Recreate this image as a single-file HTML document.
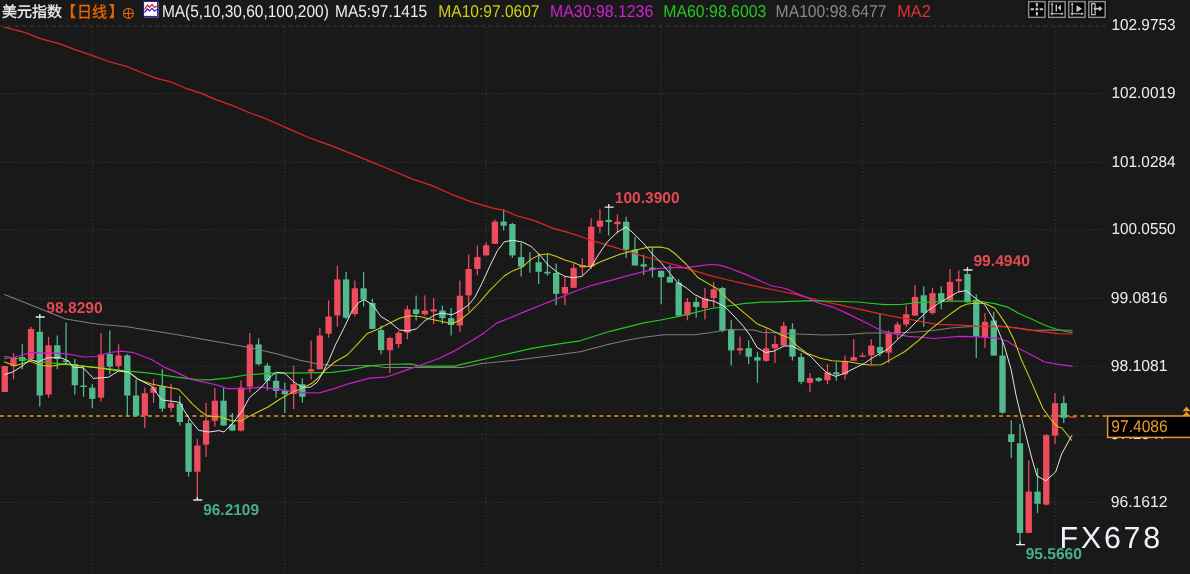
<!DOCTYPE html>
<html lang="zh-CN">
<head>
<meta charset="utf-8">
<title>美元指数 日线</title>
<style>
html,body{margin:0;padding:0;background:#191919;overflow:hidden}
body{width:1190px;height:574px;position:relative;font-family:"Liberation Sans", "Noto Sans CJK SC", sans-serif}
</style>
</head>
<body>
<svg width="1190" height="574" viewBox="0 0 1190 574" style="display:block;position:absolute;left:0;top:0">
<rect width="1190" height="574" fill="#191919"/>
<g stroke="#3c3c3c" stroke-width="1" fill="none">
<path d="M0 26H1105.5" stroke="#3f3f3f" stroke-dasharray="4 3.4"/>
<path d="M0 93.6H1105.5" stroke-dasharray="1.2 2.5"/>
<path d="M0 162.2H1105.5" stroke-dasharray="1.2 2.5"/>
<path d="M0 230.0H1105.5" stroke-dasharray="1.2 2.5"/>
<path d="M0 298.5H1105.5" stroke-dasharray="1.2 2.5"/>
<path d="M0 366.3H1105.5" stroke-dasharray="1.2 2.5"/>
<path d="M0 434.7H1105.5" stroke-dasharray="1.2 2.5"/>
<path d="M0 502.4H1105.5" stroke-dasharray="1.2 2.5"/>
<path d="M92.3 27V574" stroke-dasharray="1.2 2.5"/>
<path d="M284.8 27V574" stroke-dasharray="1.2 2.5"/>
<path d="M486.1 27V574" stroke-dasharray="1.2 2.5"/>
<path d="M661.2 27V574" stroke-dasharray="1.2 2.5"/>
<path d="M862.5 27V574" stroke-dasharray="1.2 2.5"/>
<path d="M1055.0 27V574" stroke-dasharray="1.2 2.5"/>
</g>
<path d="M0 416H1108" stroke="#e8962e" stroke-width="1.35" stroke-dasharray="4 3.4" fill="none"/>
<g>
<path d="M4.78 366.0V392.0" stroke="#ec4c5d" stroke-width="1.25"/>
<rect x="1.63" y="366.0" width="6.3" height="26.0" fill="#ec4c5d"/>
<path d="M13.53 353.0V379.4" stroke="#ec4c5d" stroke-width="1.25"/>
<rect x="10.38" y="357.4" width="6.3" height="8.6" fill="#ec4c5d"/>
<path d="M22.28 344.3V369.3" stroke="#52b98c" stroke-width="1.25"/>
<rect x="19.13" y="357.0" width="6.3" height="4.0" fill="#52b98c"/>
<path d="M31.04 326.7V359.0" stroke="#ec4c5d" stroke-width="1.25"/>
<rect x="27.89" y="329.0" width="6.3" height="30.0" fill="#ec4c5d"/>
<path d="M39.79 315.4V406.7" stroke="#52b98c" stroke-width="1.25"/>
<rect x="36.64" y="331.8" width="6.3" height="63.7" fill="#52b98c"/>
<path d="M48.54 336.8V397.7" stroke="#ec4c5d" stroke-width="1.25"/>
<rect x="45.39" y="345.3" width="6.3" height="49.2" fill="#ec4c5d"/>
<path d="M57.29 335.5V369.3" stroke="#52b98c" stroke-width="1.25"/>
<rect x="54.14" y="345.3" width="6.3" height="13.7" fill="#52b98c"/>
<path d="M66.04 322.8V364.0" stroke="#52b98c" stroke-width="1.25"/>
<rect x="62.89" y="360.5" width="6.3" height="1.5" fill="#52b98c"/>
<path d="M74.80 359.0V394.4" stroke="#52b98c" stroke-width="1.25"/>
<rect x="71.65" y="364.0" width="6.3" height="21.2" fill="#52b98c"/>
<path d="M83.55 365.0V396.9" stroke="#52b98c" stroke-width="1.25"/>
<rect x="80.40" y="385.6" width="6.3" height="1.4" fill="#52b98c"/>
<path d="M92.30 384.1V407.9" stroke="#52b98c" stroke-width="1.25"/>
<rect x="89.15" y="387.7" width="6.3" height="11.2" fill="#52b98c"/>
<path d="M101.05 333.1V401.6" stroke="#ec4c5d" stroke-width="1.25"/>
<rect x="97.90" y="354.4" width="6.3" height="43.3" fill="#ec4c5d"/>
<path d="M109.80 330.4V374.3" stroke="#52b98c" stroke-width="1.25"/>
<rect x="106.65" y="354.0" width="6.3" height="12.7" fill="#52b98c"/>
<path d="M118.56 344.3V369.3" stroke="#ec4c5d" stroke-width="1.25"/>
<rect x="115.41" y="355.4" width="6.3" height="10.6" fill="#ec4c5d"/>
<path d="M127.31 354.0V415.8" stroke="#52b98c" stroke-width="1.25"/>
<rect x="124.16" y="355.4" width="6.3" height="40.1" fill="#52b98c"/>
<path d="M136.06 379.4V416.5" stroke="#52b98c" stroke-width="1.25"/>
<rect x="132.91" y="395.5" width="6.3" height="20.3" fill="#52b98c"/>
<path d="M144.81 387.6V428.2" stroke="#ec4c5d" stroke-width="1.25"/>
<rect x="141.66" y="393.2" width="6.3" height="22.6" fill="#ec4c5d"/>
<path d="M153.56 379.0V402.8" stroke="#ec4c5d" stroke-width="1.25"/>
<rect x="150.41" y="387.3" width="6.3" height="5.5" fill="#ec4c5d"/>
<path d="M162.32 369.0V411.8" stroke="#52b98c" stroke-width="1.25"/>
<rect x="159.17" y="386.3" width="6.3" height="22.4" fill="#52b98c"/>
<path d="M171.07 384.1V411.8" stroke="#ec4c5d" stroke-width="1.25"/>
<rect x="167.92" y="403.2" width="6.3" height="4.7" fill="#ec4c5d"/>
<path d="M179.82 395.7V425.5" stroke="#52b98c" stroke-width="1.25"/>
<rect x="176.67" y="403.6" width="6.3" height="18.4" fill="#52b98c"/>
<path d="M188.57 419.0V476.7" stroke="#52b98c" stroke-width="1.25"/>
<rect x="185.42" y="423.2" width="6.3" height="48.7" fill="#52b98c"/>
<path d="M197.32 439.1V499.6" stroke="#ec4c5d" stroke-width="1.25"/>
<rect x="194.17" y="445.6" width="6.3" height="26.1" fill="#ec4c5d"/>
<path d="M206.08 403.0V457.0" stroke="#ec4c5d" stroke-width="1.25"/>
<rect x="202.93" y="420.5" width="6.3" height="24.1" fill="#ec4c5d"/>
<path d="M214.83 387.9V426.6" stroke="#ec4c5d" stroke-width="1.25"/>
<rect x="211.68" y="400.7" width="6.3" height="20.1" fill="#ec4c5d"/>
<path d="M223.58 387.9V425.5" stroke="#52b98c" stroke-width="1.25"/>
<rect x="220.43" y="400.7" width="6.3" height="24.8" fill="#52b98c"/>
<path d="M232.33 412.9V430.6" stroke="#52b98c" stroke-width="1.25"/>
<rect x="229.18" y="424.4" width="6.3" height="6.2" fill="#52b98c"/>
<path d="M241.08 380.4V431.6" stroke="#ec4c5d" stroke-width="1.25"/>
<rect x="237.93" y="387.5" width="6.3" height="43.1" fill="#ec4c5d"/>
<path d="M249.84 333.1V392.6" stroke="#ec4c5d" stroke-width="1.25"/>
<rect x="246.69" y="344.4" width="6.3" height="42.3" fill="#ec4c5d"/>
<path d="M258.59 338.2V365.6" stroke="#52b98c" stroke-width="1.25"/>
<rect x="255.44" y="344.4" width="6.3" height="19.8" fill="#52b98c"/>
<path d="M267.34 363.0V390.6" stroke="#52b98c" stroke-width="1.25"/>
<rect x="264.19" y="365.6" width="6.3" height="15.2" fill="#52b98c"/>
<path d="M276.09 374.0V397.7" stroke="#52b98c" stroke-width="1.25"/>
<rect x="272.94" y="380.8" width="6.3" height="10.1" fill="#52b98c"/>
<path d="M284.84 382.8V412.9" stroke="#52b98c" stroke-width="1.25"/>
<rect x="281.69" y="390.9" width="6.3" height="3.4" fill="#52b98c"/>
<path d="M293.60 365.6V409.2" stroke="#ec4c5d" stroke-width="1.25"/>
<rect x="290.45" y="384.1" width="6.3" height="9.8" fill="#ec4c5d"/>
<path d="M302.35 378.2V402.7" stroke="#52b98c" stroke-width="1.25"/>
<rect x="299.20" y="384.1" width="6.3" height="12.7" fill="#52b98c"/>
<path d="M311.10 340.5V379.4" stroke="#ec4c5d" stroke-width="1.25"/>
<rect x="307.95" y="369.3" width="6.3" height="2.2" fill="#ec4c5d"/>
<path d="M319.85 328.0V369.3" stroke="#ec4c5d" stroke-width="1.25"/>
<rect x="316.70" y="335.5" width="6.3" height="33.8" fill="#ec4c5d"/>
<path d="M328.60 300.5V337.7" stroke="#ec4c5d" stroke-width="1.25"/>
<rect x="325.45" y="316.5" width="6.3" height="17.2" fill="#ec4c5d"/>
<path d="M337.36 265.8V326.7" stroke="#ec4c5d" stroke-width="1.25"/>
<rect x="334.21" y="279.4" width="6.3" height="36.0" fill="#ec4c5d"/>
<path d="M346.11 271.8V319.1" stroke="#52b98c" stroke-width="1.25"/>
<rect x="342.96" y="279.4" width="6.3" height="38.3" fill="#52b98c"/>
<path d="M354.86 280.5V316.5" stroke="#ec4c5d" stroke-width="1.25"/>
<rect x="351.71" y="288.3" width="6.3" height="25.7" fill="#ec4c5d"/>
<path d="M363.61 271.8V306.4" stroke="#52b98c" stroke-width="1.25"/>
<rect x="360.46" y="288.3" width="6.3" height="11.3" fill="#52b98c"/>
<path d="M372.36 298.8V329.2" stroke="#52b98c" stroke-width="1.25"/>
<rect x="369.21" y="303.0" width="6.3" height="25.9" fill="#52b98c"/>
<path d="M381.12 325.5V354.3" stroke="#52b98c" stroke-width="1.25"/>
<rect x="377.97" y="330.1" width="6.3" height="20.1" fill="#52b98c"/>
<path d="M389.87 336.8V372.9" stroke="#ec4c5d" stroke-width="1.25"/>
<rect x="386.72" y="338.0" width="6.3" height="12.2" fill="#ec4c5d"/>
<path d="M398.62 331.2V347.8" stroke="#ec4c5d" stroke-width="1.25"/>
<rect x="395.47" y="332.9" width="6.3" height="11.2" fill="#ec4c5d"/>
<path d="M407.37 305.6V339.3" stroke="#ec4c5d" stroke-width="1.25"/>
<rect x="404.22" y="309.3" width="6.3" height="23.3" fill="#ec4c5d"/>
<path d="M416.12 295.4V320.4" stroke="#52b98c" stroke-width="1.25"/>
<rect x="412.97" y="309.3" width="6.3" height="4.7" fill="#52b98c"/>
<path d="M424.88 295.4V315.7" stroke="#ec4c5d" stroke-width="1.25"/>
<rect x="421.73" y="310.6" width="6.3" height="3.7" fill="#ec4c5d"/>
<path d="M433.63 298.0V324.1" stroke="#ec4c5d" stroke-width="1.25"/>
<rect x="430.48" y="309.3" width="6.3" height="2.2" fill="#ec4c5d"/>
<path d="M442.38 305.6V324.1" stroke="#52b98c" stroke-width="1.25"/>
<rect x="439.23" y="310.6" width="6.3" height="7.6" fill="#52b98c"/>
<path d="M451.13 308.1V335.6" stroke="#52b98c" stroke-width="1.25"/>
<rect x="447.98" y="318.2" width="6.3" height="6.8" fill="#52b98c"/>
<path d="M459.88 280.6V331.7" stroke="#ec4c5d" stroke-width="1.25"/>
<rect x="456.73" y="295.7" width="6.3" height="29.8" fill="#ec4c5d"/>
<path d="M468.64 254.4V311.5" stroke="#ec4c5d" stroke-width="1.25"/>
<rect x="465.49" y="269.0" width="6.3" height="26.4" fill="#ec4c5d"/>
<path d="M477.39 245.6V275.3" stroke="#ec4c5d" stroke-width="1.25"/>
<rect x="474.24" y="257.1" width="6.3" height="11.9" fill="#ec4c5d"/>
<path d="M486.14 242.2V255.4" stroke="#ec4c5d" stroke-width="1.25"/>
<rect x="482.99" y="245.3" width="6.3" height="10.1" fill="#ec4c5d"/>
<path d="M494.89 219.4V243.9" stroke="#ec4c5d" stroke-width="1.25"/>
<rect x="491.74" y="221.6" width="6.3" height="22.3" fill="#ec4c5d"/>
<path d="M503.64 209.3V230.4" stroke="#52b98c" stroke-width="1.25"/>
<rect x="500.49" y="221.6" width="6.3" height="4.1" fill="#52b98c"/>
<path d="M512.40 222.8V257.8" stroke="#52b98c" stroke-width="1.25"/>
<rect x="509.25" y="224.0" width="6.3" height="31.4" fill="#52b98c"/>
<path d="M521.15 243.1V276.4" stroke="#52b98c" stroke-width="1.25"/>
<rect x="518.00" y="257.1" width="6.3" height="9.6" fill="#52b98c"/>
<path d="M529.90 252.0V272.7" stroke="#52b98c" stroke-width="1.25"/>
<path d="M538.65 253.2V284.1" stroke="#52b98c" stroke-width="1.25"/>
<rect x="535.50" y="262.2" width="6.3" height="9.6" fill="#52b98c"/>
<path d="M547.40 253.7V275.7" stroke="#52b98c" stroke-width="1.25"/>
<rect x="544.25" y="271.8" width="6.3" height="1.7" fill="#52b98c"/>
<path d="M556.16 263.4V305.3" stroke="#52b98c" stroke-width="1.25"/>
<rect x="553.01" y="273.0" width="6.3" height="20.8" fill="#52b98c"/>
<path d="M564.91 276.9V305.3" stroke="#ec4c5d" stroke-width="1.25"/>
<rect x="561.76" y="287.0" width="6.3" height="6.5" fill="#ec4c5d"/>
<path d="M573.66 263.4V287.9" stroke="#ec4c5d" stroke-width="1.25"/>
<rect x="570.51" y="267.9" width="6.3" height="19.9" fill="#ec4c5d"/>
<path d="M582.41 258.3V275.7" stroke="#ec4c5d" stroke-width="1.25"/>
<rect x="579.26" y="265.0" width="6.3" height="2.6" fill="#ec4c5d"/>
<path d="M591.16 218.2V268.9" stroke="#ec4c5d" stroke-width="1.25"/>
<rect x="588.01" y="226.7" width="6.3" height="40.0" fill="#ec4c5d"/>
<path d="M599.92 209.3V232.9" stroke="#ec4c5d" stroke-width="1.25"/>
<rect x="596.77" y="220.6" width="6.3" height="6.1" fill="#ec4c5d"/>
<path d="M608.67 207.1V235.5" stroke="#52b98c" stroke-width="1.25"/>
<rect x="605.52" y="219.9" width="6.3" height="2.1" fill="#52b98c"/>
<path d="M617.42 214.4V233.7" stroke="#ec4c5d" stroke-width="1.25"/>
<rect x="614.27" y="221.7" width="6.3" height="2.5" fill="#ec4c5d"/>
<path d="M626.17 216.8V258.0" stroke="#52b98c" stroke-width="1.25"/>
<rect x="623.02" y="221.7" width="6.3" height="28.0" fill="#52b98c"/>
<path d="M634.92 237.1V265.5" stroke="#52b98c" stroke-width="1.25"/>
<rect x="631.77" y="249.7" width="6.3" height="15.8" fill="#52b98c"/>
<path d="M643.68 254.7V275.0" stroke="#52b98c" stroke-width="1.25"/>
<rect x="640.53" y="264.3" width="6.3" height="2.2" fill="#52b98c"/>
<path d="M652.43 248.0V277.5" stroke="#52b98c" stroke-width="1.25"/>
<rect x="649.28" y="267.7" width="6.3" height="2.2" fill="#52b98c"/>
<path d="M661.18 270.8V304.2" stroke="#52b98c" stroke-width="1.25"/>
<rect x="658.03" y="270.8" width="6.3" height="6.4" fill="#52b98c"/>
<path d="M669.93 264.8V282.6" stroke="#52b98c" stroke-width="1.25"/>
<rect x="666.78" y="276.7" width="6.3" height="5.9" fill="#52b98c"/>
<path d="M678.68 279.2V316.6" stroke="#52b98c" stroke-width="1.25"/>
<rect x="675.53" y="282.6" width="6.3" height="33.0" fill="#52b98c"/>
<path d="M687.44 298.0V320.3" stroke="#ec4c5d" stroke-width="1.25"/>
<rect x="684.29" y="301.9" width="6.3" height="13.4" fill="#ec4c5d"/>
<path d="M696.19 297.0V317.8" stroke="#52b98c" stroke-width="1.25"/>
<rect x="693.04" y="301.9" width="6.3" height="5.1" fill="#52b98c"/>
<path d="M704.94 288.0V319.5" stroke="#ec4c5d" stroke-width="1.25"/>
<rect x="701.79" y="298.5" width="6.3" height="9.5" fill="#ec4c5d"/>
<path d="M713.69 281.7V307.6" stroke="#ec4c5d" stroke-width="1.25"/>
<rect x="710.54" y="289.3" width="6.3" height="8.7" fill="#ec4c5d"/>
<path d="M722.44 286.8V332.5" stroke="#52b98c" stroke-width="1.25"/>
<rect x="719.29" y="288.0" width="6.3" height="42.8" fill="#52b98c"/>
<path d="M731.20 320.3V365.6" stroke="#52b98c" stroke-width="1.25"/>
<rect x="728.05" y="329.6" width="6.3" height="20.8" fill="#52b98c"/>
<path d="M739.95 336.4V354.5" stroke="#ec4c5d" stroke-width="1.25"/>
<rect x="736.80" y="348.2" width="6.3" height="2.2" fill="#ec4c5d"/>
<path d="M748.70 340.3V364.3" stroke="#52b98c" stroke-width="1.25"/>
<rect x="745.55" y="348.2" width="6.3" height="8.5" fill="#52b98c"/>
<path d="M757.45 352.1V382.9" stroke="#52b98c" stroke-width="1.25"/>
<rect x="754.30" y="357.2" width="6.3" height="3.4" fill="#52b98c"/>
<path d="M766.20 328.8V361.7" stroke="#ec4c5d" stroke-width="1.25"/>
<rect x="763.05" y="348.2" width="6.3" height="12.7" fill="#ec4c5d"/>
<path d="M774.96 335.6V362.9" stroke="#ec4c5d" stroke-width="1.25"/>
<rect x="771.81" y="344.0" width="6.3" height="4.2" fill="#ec4c5d"/>
<path d="M783.71 321.7V345.4" stroke="#ec4c5d" stroke-width="1.25"/>
<rect x="780.56" y="325.8" width="6.3" height="19.6" fill="#ec4c5d"/>
<path d="M792.46 323.3V360.5" stroke="#52b98c" stroke-width="1.25"/>
<rect x="789.31" y="329.1" width="6.3" height="27.5" fill="#52b98c"/>
<path d="M801.21 353.0V384.2" stroke="#52b98c" stroke-width="1.25"/>
<rect x="798.06" y="357.1" width="6.3" height="24.7" fill="#52b98c"/>
<path d="M809.96 373.0V392.1" stroke="#ec4c5d" stroke-width="1.25"/>
<rect x="806.81" y="378.0" width="6.3" height="4.8" fill="#ec4c5d"/>
<path d="M818.72 376.9V382.0" stroke="#52b98c" stroke-width="1.25"/>
<rect x="815.57" y="378.1" width="6.3" height="2.7" fill="#52b98c"/>
<path d="M827.47 364.2V384.2" stroke="#ec4c5d" stroke-width="1.25"/>
<rect x="824.32" y="372.3" width="6.3" height="8.0" fill="#ec4c5d"/>
<path d="M836.22 362.2V380.8" stroke="#52b98c" stroke-width="1.25"/>
<rect x="833.07" y="372.3" width="6.3" height="2.1" fill="#52b98c"/>
<path d="M844.97 355.4V379.4" stroke="#ec4c5d" stroke-width="1.25"/>
<rect x="841.82" y="361.2" width="6.3" height="13.2" fill="#ec4c5d"/>
<path d="M853.72 339.2V360.8" stroke="#ec4c5d" stroke-width="1.25"/>
<rect x="850.57" y="357.1" width="6.3" height="3.7" fill="#ec4c5d"/>
<path d="M862.48 352.7V356.8" stroke="#ec4c5d" stroke-width="1.25"/>
<rect x="859.33" y="355.4" width="6.3" height="1.4" fill="#ec4c5d"/>
<path d="M871.23 339.2V364.2" stroke="#ec4c5d" stroke-width="1.25"/>
<rect x="868.08" y="345.6" width="6.3" height="9.8" fill="#ec4c5d"/>
<path d="M879.98 314.2V356.6" stroke="#52b98c" stroke-width="1.25"/>
<rect x="876.83" y="347.0" width="6.3" height="6.2" fill="#52b98c"/>
<path d="M888.73 330.4V362.9" stroke="#ec4c5d" stroke-width="1.25"/>
<rect x="885.58" y="333.5" width="6.3" height="19.2" fill="#ec4c5d"/>
<path d="M897.48 321.7V339.2" stroke="#ec4c5d" stroke-width="1.25"/>
<rect x="894.33" y="324.4" width="6.3" height="9.1" fill="#ec4c5d"/>
<path d="M906.24 305.6V326.8" stroke="#ec4c5d" stroke-width="1.25"/>
<rect x="903.09" y="314.2" width="6.3" height="10.2" fill="#ec4c5d"/>
<path d="M914.99 285.1V315.6" stroke="#ec4c5d" stroke-width="1.25"/>
<rect x="911.84" y="297.0" width="6.3" height="18.6" fill="#ec4c5d"/>
<path d="M923.74 286.3V326.8" stroke="#52b98c" stroke-width="1.25"/>
<rect x="920.59" y="295.3" width="6.3" height="17.5" fill="#52b98c"/>
<path d="M932.49 288.0V314.5" stroke="#ec4c5d" stroke-width="1.25"/>
<rect x="929.34" y="293.1" width="6.3" height="19.9" fill="#ec4c5d"/>
<path d="M941.24 286.3V309.2" stroke="#52b98c" stroke-width="1.25"/>
<rect x="938.09" y="293.1" width="6.3" height="8.4" fill="#52b98c"/>
<path d="M950.00 268.9V301.5" stroke="#ec4c5d" stroke-width="1.25"/>
<rect x="946.85" y="281.8" width="6.3" height="18.9" fill="#ec4c5d"/>
<path d="M958.75 270.3V292.2" stroke="#ec4c5d" stroke-width="1.25"/>
<rect x="955.60" y="279.1" width="6.3" height="2.2" fill="#ec4c5d"/>
<path d="M967.50 269.7V302.4" stroke="#52b98c" stroke-width="1.25"/>
<rect x="964.35" y="274.0" width="6.3" height="28.4" fill="#52b98c"/>
<path d="M976.25 294.3V358.0" stroke="#52b98c" stroke-width="1.25"/>
<rect x="973.10" y="299.8" width="6.3" height="36.9" fill="#52b98c"/>
<path d="M985.00 313.0V348.1" stroke="#ec4c5d" stroke-width="1.25"/>
<rect x="981.85" y="321.8" width="6.3" height="15.9" fill="#ec4c5d"/>
<path d="M993.76 311.7V355.6" stroke="#52b98c" stroke-width="1.25"/>
<rect x="990.61" y="320.5" width="6.3" height="35.1" fill="#52b98c"/>
<path d="M1002.51 340.4V413.9" stroke="#52b98c" stroke-width="1.25"/>
<rect x="999.36" y="355.6" width="6.3" height="57.1" fill="#52b98c"/>
<path d="M1011.26 420.3V457.9" stroke="#52b98c" stroke-width="1.25"/>
<rect x="1008.11" y="434.2" width="6.3" height="7.8" fill="#52b98c"/>
<path d="M1020.01 424.1V544.5" stroke="#52b98c" stroke-width="1.25"/>
<rect x="1016.86" y="443.2" width="6.3" height="89.7" fill="#52b98c"/>
<path d="M1028.76 460.6V532.9" stroke="#ec4c5d" stroke-width="1.25"/>
<rect x="1025.61" y="491.6" width="6.3" height="41.3" fill="#ec4c5d"/>
<path d="M1037.52 468.0V513.1" stroke="#52b98c" stroke-width="1.25"/>
<rect x="1034.37" y="491.6" width="6.3" height="12.2" fill="#52b98c"/>
<path d="M1046.27 434.2V505.5" stroke="#ec4c5d" stroke-width="1.25"/>
<rect x="1043.12" y="435.2" width="6.3" height="69.4" fill="#ec4c5d"/>
<path d="M1055.02 393.1V444.0" stroke="#ec4c5d" stroke-width="1.25"/>
<rect x="1051.87" y="403.1" width="6.3" height="32.5" fill="#ec4c5d"/>
<path d="M1063.77 395.8V422.9" stroke="#52b98c" stroke-width="1.25"/>
<rect x="1060.62" y="403.1" width="6.3" height="14.7" fill="#52b98c"/>
<rect x="1069.32" y="416.4" width="6.4" height="1.4" fill="#ec4c5d"/>
</g>
<g fill="none" stroke-width="1.05" stroke-linejoin="round" stroke-linecap="round">
<path d="M4.5 294.6 L37.9 307.7 L65.7 319.1 L92.9 323.4 L101.0 324.6 L125.3 326.4 L150.7 330.4 L176.0 334.6 L201.4 338.9 L226.7 343.6 L252.0 348.1 L277.4 354.1 L300.0 360.3 L305.1 361.3 L318.6 364.2 L332.2 365.2 L370.0 365.6 L385.0 367.5 L462.8 367.5 L481.4 363.6 L515.1 360.2 L548.9 356.0 L580.0 351.8 L610.0 344.0 L626.9 340.3 L643.8 337.2 L664.1 334.7 L694.5 334.7 L711.4 332.5 L728.2 329.6 L753.6 330.1 L762.0 332.2 L778.9 333.0 L790.0 333.8 L823.8 335.1 L849.1 334.6 L866.0 333.0 L891.4 333.0 L916.7 332.1 L933.6 330.4 L950.5 327.9 L967.4 326.7 L999.1 326.0 L1016.0 327.7 L1032.9 330.2 L1049.8 329.9 L1072.0 330.3" stroke="#7e7e7e" stroke-width="1.05"/>
<path d="M4.5 27.1 L25.3 32.6 L40.4 38.7 L58.1 43.4 L75.8 49.8 L93.4 55.9 L108.6 61.5 L126.3 66.4 L141.4 72.5 L156.6 78.4 L171.7 82.2 L186.9 88.7 L202.0 93.7 L217.2 100.1 L232.3 105.4 L247.5 112.0 L262.6 117.4 L277.8 124.0 L290.0 129.4 L310.2 138.2 L330.4 145.3 L350.6 153.3 L370.8 161.7 L391.0 170.0 L411.2 178.6 L431.4 185.4 L451.6 194.3 L471.8 202.1 L492.0 207.9 L504.6 210.6 L517.3 216.0 L532.4 219.9 L552.6 228.1 L572.8 233.8 L592.0 240.5 L610.0 245.9 L626.9 251.0 L643.8 256.4 L660.7 261.0 L677.6 265.7 L694.5 270.8 L711.4 275.8 L728.2 280.0 L745.1 283.9 L762.0 287.7 L778.9 291.0 L795.8 294.4 L817.0 300.0 L840.7 305.1 L857.6 308.8 L874.5 312.7 L891.4 316.1 L908.2 319.2 L925.1 322.3 L937.0 324.3 L958.9 325.2 L975.8 326.1 L1007.6 326.9 L1024.5 329.4 L1041.4 331.6 L1058.2 333.6 L1072.0 334.0" stroke="#e02626" stroke-width="1.25"/>
<path d="M4.5 356.5 L25.3 359.5 L50.5 362.8 L75.8 365.3 L101.0 367.8 L126.3 370.9 L151.5 373.4 L176.8 377.2 L197.0 379.7 L208.9 379.9 L229.1 377.9 L246.0 375.0 L271.4 373.2 L305.1 372.8 L332.2 372.3 L347.4 370.3 L370.0 365.8 L385.0 364.5 L410.4 363.8 L420.5 366.2 L454.3 366.2 L467.8 362.8 L498.2 356.0 L532.0 348.4 L557.4 344.2 L580.0 340.8 L610.0 331.3 L626.9 327.1 L643.8 322.9 L660.7 320.0 L677.6 316.6 L694.5 312.7 L711.4 308.5 L728.2 306.0 L745.1 303.4 L762.0 302.1 L778.9 301.8 L810.0 300.7 L857.6 302.0 L884.6 304.7 L901.5 304.5 L916.7 302.6 L956.0 301.0 L981.4 301.5 L994.9 303.7 L1008.4 307.4 L1018.5 313.3 L1032.0 319.3 L1045.5 325.5 L1055.7 329.0 L1065.8 331.5 L1072.0 332.4" stroke="#22c81e" stroke-width="1.2"/>
<path d="M4.5 358.7 L15.2 357.0 L30.3 352.7 L50.5 353.2 L65.7 353.7 L83.3 357.0 L96.0 356.5 L108.6 352.7 L121.2 351.2 L133.8 352.7 L151.5 359.5 L164.1 367.1 L176.8 372.4 L190.3 379.1 L203.8 382.1 L217.3 385.0 L227.4 388.6 L246.0 388.6 L261.2 387.2 L278.1 389.2 L291.6 391.7 L305.1 392.9 L320.3 392.6 L332.2 389.2 L347.4 384.1 L359.2 380.8 L370.0 378.2 L386.8 377.0 L405.3 370.4 L422.2 364.5 L439.1 358.5 L456.0 350.1 L472.9 340.0 L484.7 332.4 L496.6 323.1 L508.4 318.5 L523.6 312.1 L540.5 305.3 L557.4 298.6 L575.1 291.2 L592.0 285.3 L610.0 280.6 L626.9 275.8 L643.8 271.6 L657.3 268.7 L669.1 267.7 L686.0 267.7 L701.2 265.7 L711.4 264.5 L718.1 264.8 L728.2 267.7 L745.1 274.1 L762.0 281.7 L772.2 286.0 L785.7 288.5 L795.8 293.0 L810.0 298.6 L817.0 302.5 L832.2 306.8 L849.1 314.4 L866.0 322.8 L881.2 330.5 L894.7 333.8 L908.2 336.3 L925.1 337.5 L933.6 338.5 L945.4 337.5 L958.9 336.3 L975.8 336.6 L997.4 338.2 L1007.6 341.3 L1017.7 348.0 L1031.2 354.8 L1044.7 362.0 L1058.2 364.4 L1072.0 366.1" stroke="#cc1fcc" stroke-width="1.2"/>
<path d="M4.5 362.0 L15.2 365.8 L30.3 361.3 L40.4 365.3 L50.5 366.3 L65.7 363.8 L83.3 366.3 L101.0 368.3 L118.7 370.9 L128.8 372.1 L138.9 379.7 L151.5 384.0 L164.1 386.5 L178.4 389.2 L185.2 396.0 L192.0 403.6 L200.4 411.2 L207.2 415.9 L220.7 417.1 L230.8 420.5 L240.9 421.0 L247.7 417.1 L257.8 412.0 L268.0 407.0 L279.8 399.3 L291.6 392.6 L301.8 388.4 L311.9 383.3 L318.6 377.4 L325.4 369.8 L335.4 361.5 L347.2 355.0 L357.3 344.4 L367.4 333.4 L377.6 329.2 L389.4 323.3 L399.5 318.2 L409.7 315.7 L419.8 316.5 L429.9 319.1 L441.8 321.6 L451.9 323.8 L460.3 319.9 L468.8 313.1 L478.9 303.0 L489.1 291.2 L499.2 281.0 L504.2 276.0 L512.6 270.9 L522.8 266.7 L531.2 259.1 L539.7 254.9 L548.1 253.7 L556.6 256.6 L565.0 260.0 L573.4 262.5 L581.9 265.9 L590.3 266.7 L598.8 262.5 L608.9 258.6 L620.1 254.2 L633.6 250.5 L648.9 247.1 L660.7 247.1 L668.3 248.8 L674.2 253.0 L686.0 264.0 L697.8 277.5 L708.0 283.4 L718.1 289.3 L728.2 299.5 L735.0 305.1 L745.1 313.6 L757.0 323.7 L768.8 328.8 L778.9 333.9 L790.7 338.5 L796.8 345.6 L806.9 353.2 L820.4 358.3 L832.2 360.8 L849.1 361.7 L861.0 363.9 L869.4 365.0 L881.2 364.7 L891.4 359.1 L904.9 351.5 L918.4 340.6 L930.2 329.6 L942.0 320.3 L952.2 312.7 L960.6 306.8 L967.4 303.9 L974.6 303.2 L984.7 303.2 L994.9 308.3 L1001.6 317.6 L1007.6 326.9 L1014.3 340.4 L1021.1 359.0 L1029.5 377.6 L1036.3 393.5 L1043.0 408.5 L1051.5 420.3 L1058.2 427.1 L1062.0 428.0 L1071.6 440.3" stroke="#cfcf12" stroke-width="1.05"/>
<path d="M4.5 374.6 L12.6 372.1 L22.7 365.8 L30.3 359.5 L37.9 362.0 L48.0 357.7 L60.6 357.7 L68.2 360.8 L73.2 367.1 L83.3 367.8 L93.4 378.4 L108.6 377.2 L118.7 370.9 L128.8 372.1 L136.4 378.4 L151.5 386.0 L161.6 399.9 L176.8 401.9 L180.1 402.7 L183.5 409.5 L190.3 420.1 L198.7 430.3 L208.9 432.0 L219.0 430.6 L224.0 432.0 L232.5 423.5 L242.6 410.3 L249.4 397.7 L261.2 387.5 L271.4 375.7 L276.4 372.3 L284.9 373.2 L293.3 381.6 L301.8 387.2 L310.2 387.2 L317.0 382.4 L322.0 374.0 L328.8 360.5 L335.4 345.0 L343.8 328.3 L352.2 310.6 L359.0 302.2 L364.1 299.6 L372.5 304.7 L380.9 316.5 L389.4 321.6 L399.5 330.0 L408.0 330.9 L416.4 328.9 L424.9 320.7 L435.0 314.8 L441.8 313.1 L451.9 314.8 L460.3 310.6 L468.8 304.7 L475.0 297.0 L482.2 282.8 L490.7 264.2 L497.4 250.7 L504.2 241.9 L512.6 240.2 L522.8 242.2 L531.2 246.5 L539.7 254.9 L548.1 265.0 L556.6 271.8 L565.0 276.4 L573.4 277.7 L581.9 276.4 L590.3 268.4 L598.8 254.1 L607.2 241.9 L617.4 232.1 L626.0 227.1 L632.0 231.9 L643.8 243.7 L652.2 253.9 L660.7 262.3 L669.1 272.4 L677.6 282.6 L686.0 287.6 L694.5 294.6 L704.6 299.3 L714.7 301.4 L724.9 306.8 L735.0 317.0 L743.4 326.3 L750.2 335.5 L757.0 347.4 L765.4 352.5 L773.9 351.1 L784.0 346.0 L792.4 346.0 L800.1 350.2 L810.3 356.0 L820.4 366.7 L827.2 373.0 L835.6 376.4 L844.1 373.5 L854.2 368.4 L864.3 363.4 L874.5 356.6 L888.0 349.0 L898.1 339.0 L908.2 330.0 L918.4 319.5 L928.5 310.1 L937.4 304.1 L947.6 298.1 L957.7 292.2 L966.1 290.5 L976.3 299.0 L984.7 304.5 L991.5 315.9 L997.4 328.0 L1004.2 345.5 L1011.0 369.1 L1016.0 395.0 L1021.0 416.0 L1032.0 459.0 L1037.0 476.0 L1046.0 480.8 L1055.7 471.9 L1061.6 454.0 L1071.8 435.6" stroke="#e4e4e4" stroke-width="1.0"/>
</g>
<path d="M35.8 317.0H44.8M39.8 314.0V317.6" stroke="#e8e8e8" stroke-width="1.3" fill="none"/>
<path d="M604.7 207.1H613.7M608.7 204.1V207.7" stroke="#e8e8e8" stroke-width="1.3" fill="none"/>
<path d="M963.5 270.0H972.5M967.5 267.0V270.6" stroke="#e8e8e8" stroke-width="1.3" fill="none"/>
<path d="M193.3 500.0H202.3M197.3 497.0V500.8" stroke="#e8e8e8" stroke-width="1.3" fill="none"/>
<path d="M1016.0 544.6H1025.0M1020.0 541.6V545.4" stroke="#e8e8e8" stroke-width="1.3" fill="none"/>
<text transform="translate(46.2 313.1) scale(1 1.04)" text-rendering="geometricPrecision" font-family='"Liberation Sans", "Noto Sans CJK SC", sans-serif' font-size="15" font-weight="bold" fill="#e24a54" textLength="56.6" lengthAdjust="spacingAndGlyphs">98.8290</text>
<text transform="translate(614.8 203.2) scale(1 1.04)" text-rendering="geometricPrecision" font-family='"Liberation Sans", "Noto Sans CJK SC", sans-serif' font-size="15" font-weight="bold" fill="#e24a54" textLength="64.8" lengthAdjust="spacingAndGlyphs">100.3900</text>
<text transform="translate(973.4 265.6) scale(1 1.04)" text-rendering="geometricPrecision" font-family='"Liberation Sans", "Noto Sans CJK SC", sans-serif' font-size="15" font-weight="bold" fill="#e24a54" textLength="56.6" lengthAdjust="spacingAndGlyphs">99.4940</text>
<text transform="translate(203.2 514.6) scale(1 1.04)" text-rendering="geometricPrecision" font-family='"Liberation Sans", "Noto Sans CJK SC", sans-serif' font-size="15" font-weight="bold" fill="#46b08c" textLength="55.8" lengthAdjust="spacingAndGlyphs">96.2109</text>
<text transform="translate(1025.7 559.0) scale(1 1.04)" text-rendering="geometricPrecision" font-family='"Liberation Sans", "Noto Sans CJK SC", sans-serif' font-size="15" font-weight="bold" fill="#46b08c" textLength="56.2" lengthAdjust="spacingAndGlyphs">95.5660</text>
<text transform="translate(1111.5 30.4) scale(1 1.03)" text-rendering="geometricPrecision" font-family='"Liberation Sans", "Noto Sans CJK SC", sans-serif' font-size="15.4" fill="#ececf4" textLength="64" lengthAdjust="spacingAndGlyphs">102.9753</text>
<text transform="translate(1111.5 98.0) scale(1 1.03)" text-rendering="geometricPrecision" font-family='"Liberation Sans", "Noto Sans CJK SC", sans-serif' font-size="15.4" fill="#ececf4" textLength="64" lengthAdjust="spacingAndGlyphs">102.0019</text>
<text transform="translate(1111.5 166.6) scale(1 1.03)" text-rendering="geometricPrecision" font-family='"Liberation Sans", "Noto Sans CJK SC", sans-serif' font-size="15.4" fill="#ececf4" textLength="64" lengthAdjust="spacingAndGlyphs">101.0284</text>
<text transform="translate(1111.5 234.4) scale(1 1.03)" text-rendering="geometricPrecision" font-family='"Liberation Sans", "Noto Sans CJK SC", sans-serif' font-size="15.4" fill="#ececf4" textLength="64" lengthAdjust="spacingAndGlyphs">100.0550</text>
<text transform="translate(1110.7 302.9) scale(1 1.03)" text-rendering="geometricPrecision" font-family='"Liberation Sans", "Noto Sans CJK SC", sans-serif' font-size="15.4" fill="#ececf4" textLength="56.9" lengthAdjust="spacingAndGlyphs">99.0816</text>
<text transform="translate(1110.7 370.7) scale(1 1.03)" text-rendering="geometricPrecision" font-family='"Liberation Sans", "Noto Sans CJK SC", sans-serif' font-size="15.4" fill="#ececf4" textLength="56.9" lengthAdjust="spacingAndGlyphs">98.1081</text>
<text transform="translate(1110.7 439.1) scale(1 1.03)" text-rendering="geometricPrecision" font-family='"Liberation Sans", "Noto Sans CJK SC", sans-serif' font-size="15.4" fill="#ececf4" textLength="56.9" lengthAdjust="spacingAndGlyphs">97.1347</text>
<text transform="translate(1110.7 506.8) scale(1 1.03)" text-rendering="geometricPrecision" font-family='"Liberation Sans", "Noto Sans CJK SC", sans-serif' font-size="15.4" fill="#ececf4" textLength="56.9" lengthAdjust="spacingAndGlyphs">96.1612</text>
<rect x="1107.6" y="416" width="84" height="21.4" fill="#000" stroke="#e8962e" stroke-width="1.5"/>
<text transform="translate(1111.3 432.3) scale(1 1.1)" text-rendering="geometricPrecision" font-family='"Liberation Sans", "Noto Sans CJK SC", sans-serif' font-size="15.4" fill="#ee9a30" textLength="56.4" lengthAdjust="spacingAndGlyphs">97.4086</text>
<path d="M1182.5 411.2L1186.5 406.6L1190.5 411.2ZM1182.5 416L1186.5 411.6L1190.5 416Z" fill="#e8962e"/>
<text x="1059.6" y="548.4" font-family='"Liberation Sans", "Noto Sans CJK SC", sans-serif' font-size="30.4" text-rendering="geometricPrecision" fill="#eef2fb" textLength="100.5" lengthAdjust="spacing">FX678</text>
<text stroke="#f0f0f0" stroke-width="0.3" transform="translate(2 16.6) scale(1 1)" text-rendering="geometricPrecision" font-family='"Liberation Sans", "Noto Sans CJK SC", sans-serif' font-size="15" fill="#f0f0f0" textLength="60" lengthAdjust="spacingAndGlyphs">美元指数</text>
<text x="62" y="16.6" font-family='"Liberation Sans", "Noto Sans CJK SC", sans-serif' font-size="15" fill="#ec6600" stroke="#ec6600" stroke-width="0.3"><tspan dx="-0.9">【</tspan><tspan dx="0.9">日</tspan>线<tspan dx="1.8">】</tspan></text>
<text transform="translate(161.9 16.9) scale(1 1.075)" text-rendering="geometricPrecision" font-family='"Liberation Sans", "Noto Sans CJK SC", sans-serif' font-size="16" fill="#ececf4" textLength="166.9" lengthAdjust="spacingAndGlyphs">MA(5,10,30,60,100,200)</text>
<text transform="translate(335.0 16.9) scale(1 1.075)" text-rendering="geometricPrecision" font-family='"Liberation Sans", "Noto Sans CJK SC", sans-serif' font-size="16" fill="#ececf4" textLength="92.2" lengthAdjust="spacingAndGlyphs">MA5:97.1415</text>
<text transform="translate(438.3 16.9) scale(1 1.075)" text-rendering="geometricPrecision" font-family='"Liberation Sans", "Noto Sans CJK SC", sans-serif' font-size="16" fill="#cfcf12" textLength="101.2" lengthAdjust="spacingAndGlyphs">MA10:97.0607</text>
<text transform="translate(550.1 16.9) scale(1 1.075)" text-rendering="geometricPrecision" font-family='"Liberation Sans", "Noto Sans CJK SC", sans-serif' font-size="16" fill="#d020d0" textLength="103.1" lengthAdjust="spacingAndGlyphs">MA30:98.1236</text>
<text transform="translate(663.2 16.9) scale(1 1.075)" text-rendering="geometricPrecision" font-family='"Liberation Sans", "Noto Sans CJK SC", sans-serif' font-size="16" fill="#22c81e" textLength="103.2" lengthAdjust="spacingAndGlyphs">MA60:98.6003</text>
<text transform="translate(775.6 16.9) scale(1 1.075)" text-rendering="geometricPrecision" font-family='"Liberation Sans", "Noto Sans CJK SC", sans-serif' font-size="16" fill="#8a8a8a" textLength="110.8" lengthAdjust="spacingAndGlyphs">MA100:98.6477</text>
<text transform="translate(897.2 16.9) scale(1 1.075)" text-rendering="geometricPrecision" font-family='"Liberation Sans", "Noto Sans CJK SC", sans-serif' font-size="16" fill="#e83030" textLength="33.5" lengthAdjust="spacingAndGlyphs">MA2</text>
<g stroke="#e06200" stroke-width="1.1" fill="none"><circle cx="128.4" cy="13.4" r="5"/><path d="M123.4 13.4H133.4M128.4 8.4V18.4"/></g>
<g><rect x="144.2" y="2" width="14.4" height="15.4" fill="#9a9aa8"/><rect x="143.6" y="1.4" width="14" height="15" fill="#fff" stroke="#1c1c9c" stroke-width="1"/><path d="M144.5 9.5L147.5 5L149.5 7.2L152 4.5L154.5 7.5L157 6" stroke="#e82020" stroke-width="1.3" fill="none"/><path d="M144.5 12.5L147.5 8.8L149.5 10.8L152 8.3L154.5 11L157 9.6" stroke="#2222e0" stroke-width="1.2" fill="none"/></g>
<rect x="1026" y="0" width="81.5" height="19.5" fill="#0c0c0c"/>
<rect x="1028.6" y="1.6" width="16.4" height="15.8" fill="#050505" stroke="#8c8c8c" stroke-width="1.5"/>
<rect x="1048.7" y="1.6" width="16.4" height="15.8" fill="#050505" stroke="#8c8c8c" stroke-width="1.5"/>
<rect x="1068.7" y="1.6" width="16.4" height="15.8" fill="#050505" stroke="#8c8c8c" stroke-width="1.5"/>
<rect x="1088.8" y="1.6" width="16.4" height="15.8" fill="#050505" stroke="#8c8c8c" stroke-width="1.5"/>
<path d="M1030.6 9.2H1034M1035.5 9.2H1038.2M1039.7 9.2H1043.1M1036.85 3V6.4M1036.85 12.1V15.5M1036.85 7.8V10.6" stroke="#c6c6c6" stroke-width="2" fill="none"/>
<g stroke="#c6c6c6" stroke-width="1.1" fill="#c6c6c6"><path d="M1052.1 3.6V15.2M1050.8 13.8H1063.0" fill="none"/><path d="M1052.1 2.8l-1.4 2.2h2.8zM1063.4 13.8l-2.2-1.4v2.8zM1050.4 13.8l2.0-1.3v2.6z" stroke="none"/><path d="M1056.3 4.4V11.6" fill="none" stroke-width="1.4"/><path d="M1057.8 7.8L1060.9 4.6V11z" stroke="none"/></g>
<g stroke="#c6c6c6" stroke-width="1.1" fill="#c6c6c6"><path d="M1072.1999999999998 3.6V15.2M1070.8999999999999 13.8H1083.1" fill="none"/><path d="M1072.1999999999998 2.8l-1.4 2.2h2.8zM1083.5 13.8l-2.2-1.4v2.8zM1070.5 13.8l2.0-1.3v2.6z" stroke="none"/><path d="M1076.5 5.2V12.2L1082.1 8.7z" stroke="none"/></g>
<g stroke="#c6c6c6" stroke-width="1.2" fill="none"><path d="M1095.1 3.6H1091.6999999999998V14.6H1095.1V3.6"/><path d="M1093.6999999999998 8.7H1100.1" stroke-width="1.8"/><path d="M1099.1 5.8L1102.5 8.7L1099.1 11.6z" fill="#c6c6c6" stroke="none"/></g>
</svg>
</body>
</html>
